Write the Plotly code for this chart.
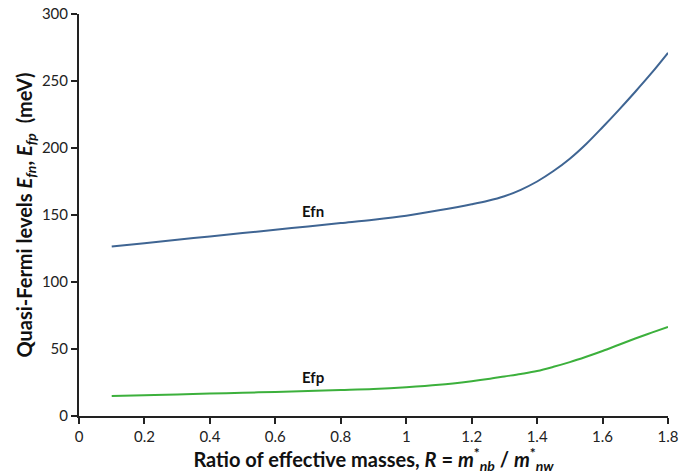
import plotly.graph_objects as go

# Ratio of effective masses R
ratio = [0.1, 0.2, 0.3, 0.4, 0.5, 0.6, 0.7, 0.8, 0.9, 1.0,
         1.1, 1.2, 1.25, 1.3, 1.35, 1.4, 1.45, 1.5, 1.55, 1.6,
         1.65, 1.7, 1.75, 1.8]

# Quasi-Fermi levels (meV)
efn = [126.5, 129.0, 131.5, 134.0, 136.5, 139.0, 141.5, 144.0, 146.5, 149.5,
       153.5, 158.0, 160.6, 164.0, 168.8, 175.0, 182.8, 192.0, 203.0, 215.5,
       228.5, 242.0, 256.0, 271.0]
efp = [15.0, 15.5, 16.0, 16.7, 17.3, 18.0, 18.7, 19.4, 20.2, 21.5,
       23.3, 26.0, 27.6, 29.5, 31.4, 33.6, 36.7, 40.2, 44.2, 48.5,
       53.2, 57.8, 62.2, 66.5]

FONT = "Lato"

fig = go.Figure()
fig.add_trace(go.Scatter(x=ratio, y=efn, mode="lines", name="Efn",
                         line=dict(color="#3f6593", width=2, shape="spline")))
fig.add_trace(go.Scatter(x=ratio, y=efp, mode="lines", name="Efp",
                         line=dict(color="#3cb03c", width=2, shape="spline")))

fig.add_annotation(x=0.715, y=153, text="<b>Efn</b>", showarrow=False,
                   font=dict(family=FONT, size=15, color="#111"))
fig.add_annotation(x=0.715, y=29, text="<b>Efp</b>", showarrow=False,
                   font=dict(family=FONT, size=15, color="#111"))

axis_common = dict(showgrid=False, zeroline=False, showline=True,
                   linecolor="#222", linewidth=2, ticks="outside",
                   tickcolor="#222", tickwidth=2, ticklen=6, automargin=False,
                   tickfont=dict(family=FONT, size=15, color="#222"))

fig.update_xaxes(range=[0, 1.8], dtick=0.2, tick0=0,
                 title=dict(text="<b>Ratio of effective masses, <i>R</i> = <i>m</i><sup>*</sup><i><sub>nb</sub></i> / <i>m</i><sup>*</sup><i><sub>nw</sub></i></b>",
                            font=dict(family=FONT, size=20, color="#111"), standoff=4),
                 **axis_common)
fig.update_yaxes(range=[0, 300], dtick=50, tick0=0,
                 title=dict(text="<b>Quasi-Fermi levels <i>E<sub>fn</sub></i>, <i>E<sub>fp</sub></i>&nbsp; (meV)</b>",
                            font=dict(family=FONT, size=20, color="#111"), standoff=4),
                 **axis_common)

fig.update_layout(width=680, height=474, showlegend=False,
                  plot_bgcolor="white", paper_bgcolor="white",
                  margin=dict(l=79, r=12, t=14, b=58))

fig.write_html("out.html")
